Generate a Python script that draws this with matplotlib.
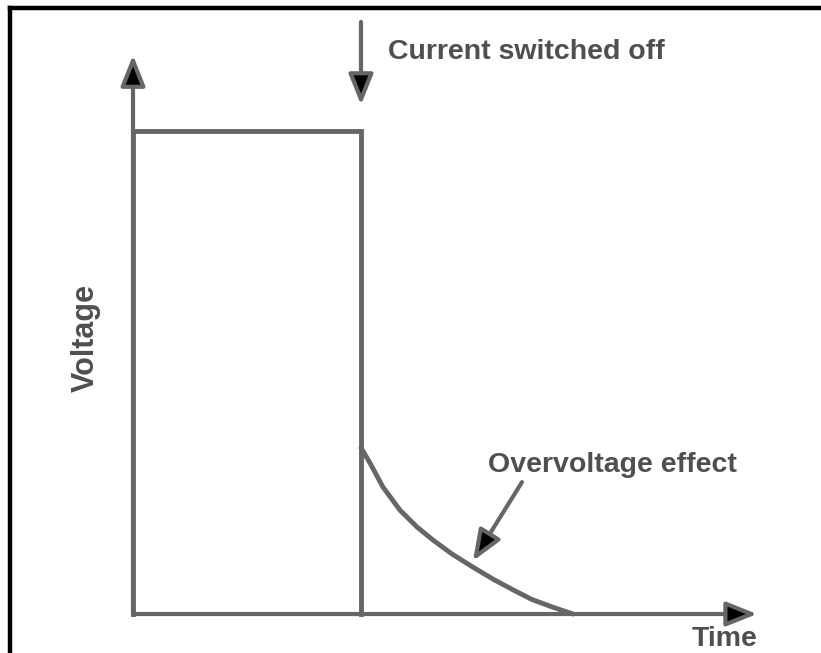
import matplotlib
matplotlib.use("Agg")
import matplotlib.pyplot as plt
from matplotlib.lines import Line2D

# Voltage pulse: constant level, then switched off at t = 1
pulse_t = [0.0, 0.0, 1.0, 1.0]
pulse_v = [0.0, 1.0, 1.0, 0.0]

# Overvoltage decay after switch-off
decay_t = [1.0, 1.039, 1.096, 1.171, 1.246, 1.316, 1.40, 1.491, 1.58, 1.667, 1.75, 1.842, 1.930]
decay_v = [0.344, 0.313, 0.263, 0.215, 0.180, 0.153, 0.124, 0.097, 0.072, 0.050, 0.030, 0.014, 0.0]

axis_t_end = 2.737
axis_v_end = 1.157

line_col = "#666666"
text_col = "#4f4f4f"
font = ["Liberation Sans", "DejaVu Sans"]

fig = plt.figure(figsize=(8.21, 6.53), dpi=100)
ax = fig.add_axes([0, 0, 1, 1])
ax.set_xlim(-0.5833, 3.0175)
ax.set_ylim(-0.0807, 1.2712)
ax.axis("off")

# outer frame (top and left edges visible)
fig.add_artist(Line2D([10 / 821, 10 / 821], [-0.1, 1 - 8 / 653], color="black",
                      lw=3.2, transform=fig.transFigure, solid_capstyle="projecting"))
fig.add_artist(Line2D([10 / 821, 1.1], [1 - 8 / 653, 1 - 8 / 653], color="black",
                      lw=3.2, transform=fig.transFigure, solid_capstyle="projecting"))

head = "-|>,head_length=1.25,head_width=0.5"
arrow_kw = dict(arrowstyle=head, lw=3.0, color=line_col, fc="black", ec=line_col,
                shrinkA=0, shrinkB=0, mutation_scale=15)

# axes with arrowheads
ax.annotate("", xy=(0, axis_v_end), xytext=(0, 0), arrowprops=arrow_kw)
ax.annotate("", xy=(axis_t_end, 0), xytext=(0, 0), arrowprops=arrow_kw)

# pulse and decay
ax.plot(pulse_t, pulse_v, color=line_col, lw=3.5, solid_joinstyle="miter")
ax.plot(decay_t, decay_v, color=line_col, lw=3.5, solid_capstyle="round",
        solid_joinstyle="round")

# switch-off marker arrow
ax.annotate("", xy=(1.0, 1.054), xytext=(1.0, 1.2257), arrowprops=arrow_kw)
ax.text(1.118, 1.1636, "Current switched off", fontsize=20.5, fontweight="bold",
        color=text_col, family=font, va="center", ha="left")

# overvoltage label with pointer
ax.text(1.557, 0.3085, "Overvoltage effect", fontsize=20.5, fontweight="bold",
        color=text_col, family=font, va="center", ha="left")
ax.annotate("", xy=(1.491, 0.110), xytext=(1.706, 0.273), arrowprops=arrow_kw)

ax.text(-0.206, 0.571, "Voltage", fontsize=22, fontweight="bold", color=text_col,
        family=font, rotation=90, va="center", ha="center")
ax.text(2.596, -0.051, "Time", fontsize=20.5, fontweight="bold", color=text_col,
        family=font, va="center", ha="center")

fig.savefig("out.png", dpi=100)
